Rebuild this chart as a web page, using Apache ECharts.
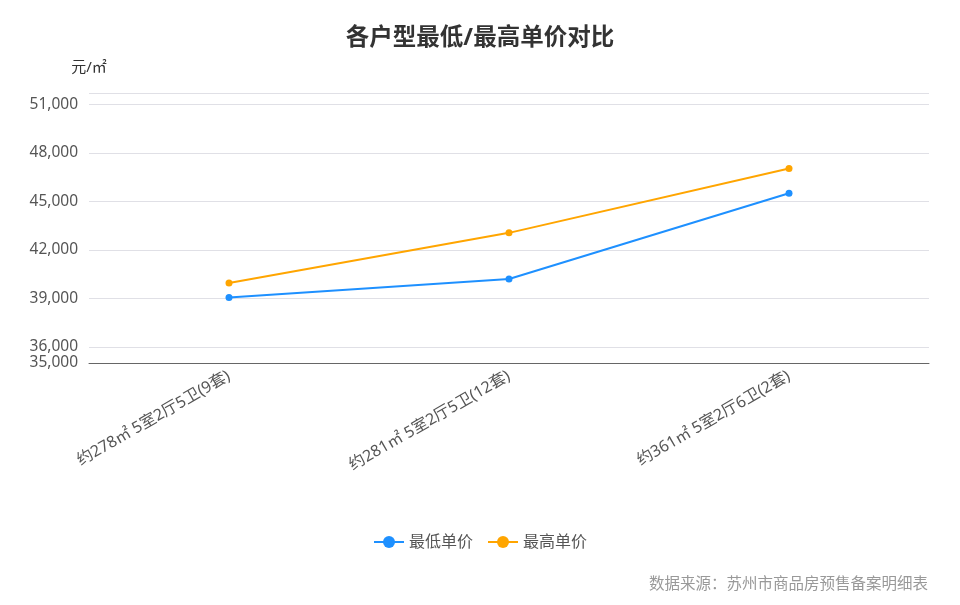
<!DOCTYPE html>
<html>
<head>
<meta charset="utf-8">
<script src="https://cdn.jsdelivr.net/npm/echarts@6/dist/echarts.min.js"></script>
<style>
    html, body { margin: 0; padding: 0; background: #fff; }
    #main { width: 960px; height: 605px; }
</style>
</head>
<body>
<div id="main"></div>
<script>
var categories = ['约278㎡ 5室2厅5卫(9套)', '约281㎡ 5室2厅5卫(12套)', '约361㎡ 5室2厅6卫(2套)'];
var minPrice = [39050, 40200, 45500];
var maxPrice = [39950, 43050, 47030];

var myChart = echarts.init(document.getElementById('main'));
var font = '"Noto Sans", "Noto Sans CJK SC", sans-serif';
var option = {
    backgroundColor: '#fff',
    textStyle: { fontFamily: font },
    title: {
        text: '各户型最低/最高单价对比',
        left: 'center',
        top: 22,
        textStyle: { fontSize: 23.5, fontWeight: 'bold', color: '#333', fontFamily: font }
    },
    legend: {
        bottom: 50,
        itemWidth: 30,
        itemHeight: 15,
        itemGap: 14,
        textStyle: { fontSize: 16, color: '#555', fontFamily: font },
        data: ['最低单价', '最高单价']
    },
    graphic: [{
        type: 'text',
        right: 32,
        bottom: 13,
        style: { text: '数据来源：苏州市商品房预售备案明细表', fontSize: 15.5, fill: '#999', fontFamily: font }
    }],
    grid: { left: 89, right: 31, top: 93, bottom: 242, containLabel: false },
    xAxis: {
        type: 'category',
        data: categories,
        axisTick: { show: false },
        axisLine: { lineStyle: { color: '#666' } },
        axisLabel: { rotate: 30, fontSize: 16, color: '#555', margin: 12, interval: 0, fontFamily: font }
    },
    yAxis: {
        type: 'value',
        name: '元/㎡',
        nameGap: 18,
        nameTextStyle: { fontSize: 15, color: '#333', align: 'center', fontFamily: font },
        min: 35000,
        max: 51700,
        axisLine: { show: false },
        axisTick: { show: false },
        axisLabel: {
            fontSize: 15.5, color: '#555', margin: 11, showMaxLabel: false, fontFamily: font,
            formatter: function (v) { return v.toLocaleString('en-US'); }
        },
        splitLine: { lineStyle: { color: '#e0e0e6' } }
    },
    series: [
        {
            name: '最低单价', type: 'line', data: minPrice,
            symbol: 'circle', symbolSize: 7,
            itemStyle: { color: '#1e90ff' },
            lineStyle: { width: 2, color: '#1e90ff' }
        },
        {
            name: '最高单价', type: 'line', data: maxPrice,
            symbol: 'circle', symbolSize: 7,
            itemStyle: { color: '#ffa500' },
            lineStyle: { width: 2, color: '#ffa500' }
        }
    ]
};
myChart.setOption(option);
</script>
</body>
</html>
